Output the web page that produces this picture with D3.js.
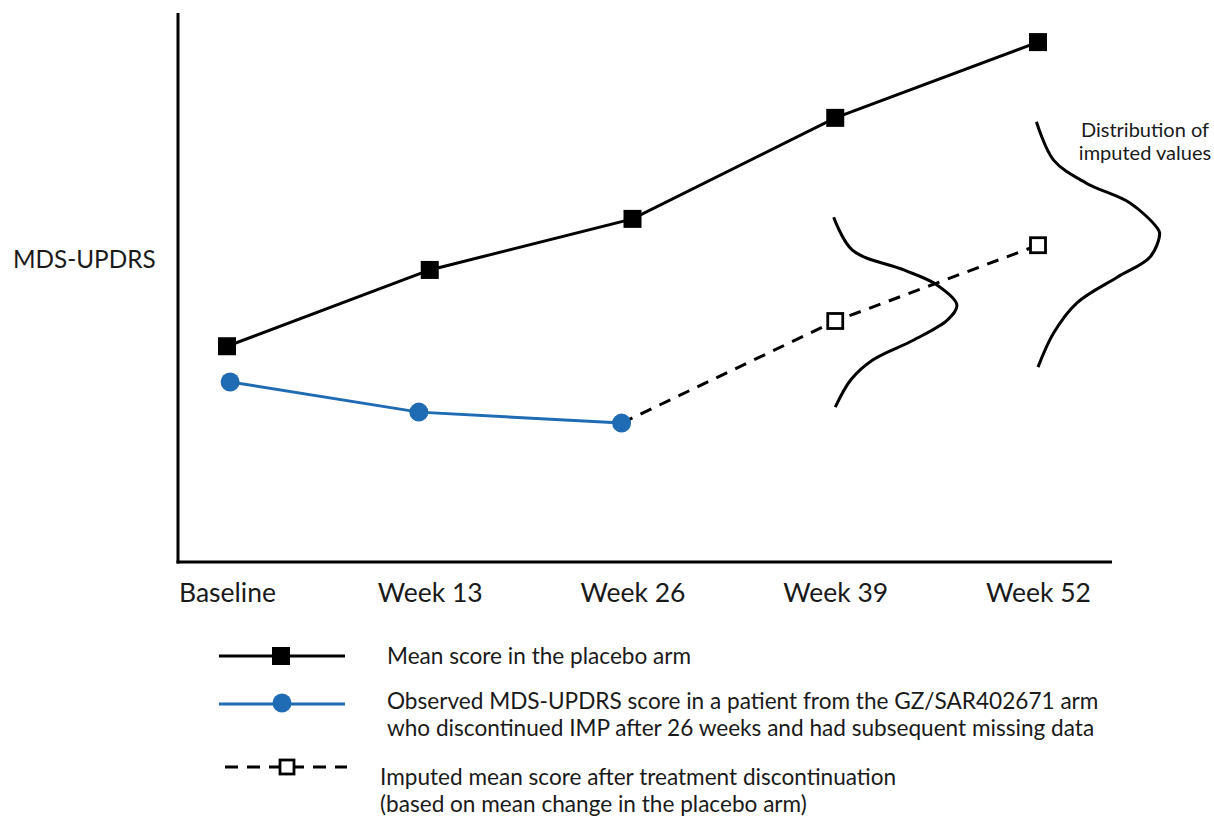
<!DOCTYPE html>
<html>
<head>
<meta charset="utf-8">
<script src="https://cdn.jsdelivr.net/npm/d3@7"></script>
<style>
  html, body { margin: 0; padding: 0; background: #fff; }
  svg { display: block; }
  text { font-family: Lato, "Open Sans", sans-serif; fill: #1a1a1a; }
</style>
</head>
<body>
<svg id="chart" width="1214" height="817"></svg>
<script>
// ---------- data ----------
const tickWeeks = [0, 13, 26, 39, 52];
const tickLabels = ["Baseline", "Week 13", "Week 26", "Week 39", "Week 52"];

const placeboWeeks = [0, 13, 26, 39, 52];
const placeboScores = [39.3, 53.2, 62.5, 80.9, 94.7];

const patientWeeks = [0.2, 12.3, 25.3];
const patientScores = [32.8, 27.3, 25.3];

const imputedWeeks = [25.3, 39, 52];
const imputedScores = [25.3, 43.9, 57.7];
const imputedMarkerFlags = [false, true, true];

// distribution curves (week-offset, score)
const dist39Weeks = [38.9, 40.1, 43.4, 45.5, 46.8, 46.2, 44.0, 41.4, 40.0, 39.0];
const dist39Scores = [62.8, 56.8, 53.2, 50.5, 46.8, 44.1, 40.4, 36.8, 33.2, 28.2];
const dist52Weeks = [51.9, 53.0, 55.1, 57.9, 59.6, 59.8, 59.2, 57.1, 54.5, 53.0, 52.0];
const dist52Scores = [80.2, 73.2, 69.0, 65.4, 61.0, 59.9, 55.6, 51.9, 47.2, 41.7, 35.5];

const yAxisTitle = "MDS-UPDRS";
const distLabel = ["Distribution of", "imputed values"];
const legendTexts = [
  ["Mean score in the placebo arm"],
  ["Observed MDS-UPDRS score in a patient from the GZ/SAR402671 arm",
   "who discontinued IMP after 26 weeks and had subsequent missing data"],
  ["Imputed mean score after treatment discontinuation",
   "(based on mean change in the placebo arm)"]
];

// ---------- layout ----------
const svg = d3.select("#chart");
const axisX = 178, axisBottom = 562, axisTop = 13, axisRight = 1112;
const x = d3.scaleLinear().domain([0, 52]).range([227, 1038]);
const y = d3.scaleLinear().domain([0, 100]).range([axisBottom, axisBottom - 549]);
const blue = "#1f6cb4";

// axes lines
svg.append("line").attr("x1", axisX).attr("x2", axisX).attr("y1", axisTop).attr("y2", axisBottom + 1.5)
  .attr("stroke", "#000").attr("stroke-width", 3);
svg.append("line").attr("x1", axisX - 1.5).attr("x2", axisRight).attr("y1", axisBottom).attr("y2", axisBottom)
  .attr("stroke", "#000").attr("stroke-width", 3);

// x tick labels via d3 axis
const xAxis = d3.axisBottom(x).tickValues(tickWeeks)
  .tickFormat((d, i) => tickLabels[i]).tickSize(0).tickPadding(0);
const gx = svg.append("g").attr("transform", `translate(0,${axisBottom})`).call(xAxis);
gx.select(".domain").remove();
gx.selectAll("text").attr("y", 40).attr("dy", null)
  .style("font-size", "26.5px").style("font-family", "Lato, sans-serif").attr("fill", "#1a1a1a");

// y axis title
svg.append("text").attr("x", 13).attr("y", 268).style("font-size", "24.3px").text(yAxisTitle);

const line = d3.line().x(d => x(d[0])).y(d => y(d[1]));
const smooth = d3.line().x(d => x(d[0])).y(d => y(d[1])).curve(d3.curveCatmullRom.alpha(0.5));

// distribution curves
[[dist39Weeks, dist39Scores], [dist52Weeks, dist52Scores]].forEach(([w, s]) => {
  svg.append("path").datum(d3.zip(w, s)).attr("d", smooth)
    .attr("fill", "none").attr("stroke", "#000").attr("stroke-width", 3);
});

// imputed dashed line
const imp = d3.zip(imputedWeeks, imputedScores);
svg.append("path").datum(imp).attr("d", line).attr("fill", "none")
  .attr("stroke", "#000").attr("stroke-width", 3).attr("stroke-dasharray", "12,9");

// placebo line
const plc = d3.zip(placeboWeeks, placeboScores);
svg.append("path").datum(plc).attr("d", line).attr("fill", "none")
  .attr("stroke", "#000").attr("stroke-width", 3);

// patient line
const pat = d3.zip(patientWeeks, patientScores);
svg.append("path").datum(pat).attr("d", line).attr("fill", "none")
  .attr("stroke", blue).attr("stroke-width", 3);

// markers
const sq = 18, osq = 15;
svg.selectAll(".plcM").data(plc).enter().append("rect")
  .attr("x", d => x(d[0]) - sq / 2).attr("y", d => y(d[1]) - sq / 2)
  .attr("width", sq).attr("height", sq).attr("fill", "#000");
svg.selectAll(".patM").data(pat).enter().append("circle")
  .attr("cx", d => x(d[0])).attr("cy", d => y(d[1])).attr("r", 9.5).attr("fill", blue);
svg.selectAll(".impM").data(imp.filter((d, i) => imputedMarkerFlags[i])).enter().append("rect")
  .attr("x", d => x(d[0]) - osq / 2).attr("y", d => y(d[1]) - osq / 2)
  .attr("width", osq).attr("height", osq).attr("fill", "#fff").attr("stroke", "#000").attr("stroke-width", 2.8);

// distribution label
svg.append("text").attr("x", 1145).attr("y", 137).attr("text-anchor", "middle").style("font-size", "20px").text(distLabel[0]);
svg.append("text").attr("x", 1145).attr("y", 160).attr("text-anchor", "middle").style("font-size", "20px").text(distLabel[1]);

// legend
const lg = svg.append("g");
const lx1 = 219, lx2 = 345;
// item 1
lg.append("line").attr("x1", lx1).attr("x2", lx2).attr("y1", 656).attr("y2", 656).attr("stroke", "#000").attr("stroke-width", 3);
lg.append("rect").attr("x", 281 - 9).attr("y", 656 - 9).attr("width", 18).attr("height", 18).attr("fill", "#000");
// item 2
lg.append("line").attr("x1", lx1).attr("x2", lx2).attr("y1", 704).attr("y2", 704).attr("stroke", blue).attr("stroke-width", 3);
lg.append("circle").attr("cx", 282).attr("cy", 703).attr("r", 9.5).attr("fill", blue);
// item 3
lg.append("line").attr("x1", 225).attr("x2", 347).attr("y1", 767).attr("y2", 767).attr("stroke", "#000")
  .attr("stroke-width", 3).attr("stroke-dasharray", "13,9");
lg.append("rect").attr("x", 287 - 7).attr("y", 767 - 7).attr("width", 14).attr("height", 14)
  .attr("fill", "#fff").attr("stroke", "#000").attr("stroke-width", 2.8);

const legendPos = [[387, [664]], [387, [709, 736]], [380, [785, 812]]];
legendTexts.forEach((lines, i) => {
  lines.forEach((t, j) => {
    lg.append("text").attr("x", legendPos[i][0]).attr("y", legendPos[i][1][j])
      .style("font-size", "22.6px").text(t);
  });
});
</script>
</body>
</html>
